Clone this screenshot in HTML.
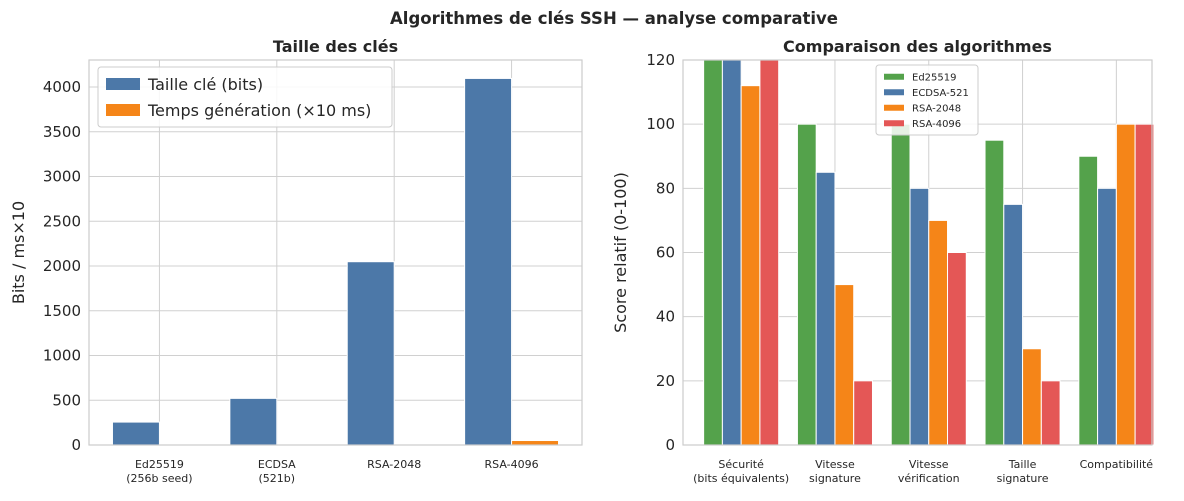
<!DOCTYPE html>
<html><head><meta charset="utf-8"><style>
body{margin:0;background:#fff;font-family:"Liberation Sans","DejaVu Sans",sans-serif}
svg text{font-family:"DejaVu Sans","Liberation Sans",sans-serif;fill:#262626}
</style></head><body>
<svg id="c" width="1184" height="496" xmlns="http://www.w3.org/2000/svg">
<text x="614" y="24" text-anchor="middle" font-size="16.5" font-weight="bold">Algorithmes de clés SSH — analyse comparative</text>
</svg>
<script>
const leftCats=["Ed25519\n(256b seed)","ECDSA\n(521b)","RSA-2048","RSA-4096"];
const keySize=[256,521,2048,4096];
const genTime=[0.5,1,2,50];
const leftTicks=[0,500,1000,1500,2000,2500,3000,3500,4000];
const rightCats=["Sécurité\n(bits équivalents)","Vitesse\nsignature","Vitesse\nvérification","Taille\nsignature","Compatibilité"];
const sEd=[128,100,100,95,90];
const sEcdsa=[128,85,80,75,80];
const sRsa2048=[112,50,70,30,100];
const sRsa4096=[128,20,60,20,100];
const rightTicks=[0,20,40,60,80,100,120];

const svg=document.getElementById('c');
const NS="http://www.w3.org/2000/svg";
function mk(t,a,p){const e=document.createElementNS(NS,t);for(const k in a)e.setAttribute(k,a[k]);(p||svg).appendChild(e);return e;}

function panel(o){
  const g=mk('g',{});
  
  
  const x=i=>o.x0+(i-o.xmin)/(o.xmax-o.xmin)*(o.x1-o.x0);
  const y=v=>o.y1-(Math.min(v,o.ymax))/o.ymax*(o.y1-o.y0);
  o.ticks.forEach(t=>{
    const l=mk('line',{x1:o.x0,x2:o.x1,y1:y(t),y2:y(t),stroke:'#d0d0d0','stroke-width':1},g);
    
    
    const tx=mk('text',{x:o.x0-8,y:y(t)+5,'text-anchor':'end','font-size':15},g);
    tx.textContent=t;
    
    
  });
  o.cats.forEach((c,i)=>{
    const l=mk('line',{x1:x(i),x2:x(i),y1:o.y0,y2:o.y1,stroke:'#d0d0d0','stroke-width':1},g);
    
    
    c.split('\n').forEach((s,k)=>{
      const tx=mk('text',{x:x(i),y:o.y1+23+k*14,'text-anchor':'middle','font-size':11},g);
      tx.textContent=s;
      
      
    });
  });
  const n=o.series.length;
  o.series.forEach((s,j)=>{
    s.vals.forEach((v,i)=>{
      const xl=x(i-o.w*n/2+j*o.w), xr=x(i-o.w*n/2+(j+1)*o.w);
      const r=mk('rect',{x:xl,y:y(v),width:xr-xl,height:o.y1-y(v),fill:s.color,stroke:'#fff','stroke-width':1},g);
      
      
    });
  });
  mk('rect',{x:o.x0,y:o.y0,width:o.x1-o.x0,height:o.y1-o.y0,fill:'none',stroke:'#cccccc','stroke-width':1.2},g);
  const t=mk('text',{x:(o.x0+o.x1)/2,y:o.y0-8,'text-anchor':'middle','font-size':16,'font-weight':'bold'},g);
  t.textContent=o.title;
  
  
  const yt=mk('text',{x:0,y:0,'text-anchor':'middle','font-size':16,transform:`translate(${o.ylx},${(o.y0+o.y1)/2}) rotate(-90)`},g);
  yt.textContent=o.ylabel;
  
  
  const L=o.leg;
  const lg=mk('g',{},g);
  
  
  mk('rect',{x:L.x,y:L.y,width:L.w,height:L.rh*n+8,fill:'#fff','fill-opacity':0.85,stroke:'#ccc',rx:3},lg);
  o.series.forEach((s,j)=>{
    const cy=L.y+4+L.rh*j+L.rh/2;
    mk('rect',{x:L.x+8,y:cy-L.sh/2,width:L.sw,height:L.sh,fill:s.color},lg);
    const tx=mk('text',{x:L.x+16+L.sw,y:cy+L.fs*0.36,'font-size':L.fs},lg);
    tx.textContent=s.label;
    
    
  });
}
panel({name:'key-size-panel',x0:89,x1:582,y0:60,y1:445,xmin:-0.6,xmax:3.6,ymax:4302,w:0.4,
  cats:leftCats,ticks:leftTicks,title:'Taille des clés',ylabel:'Bits / ms×10',ylx:24,
  series:[{key:'size',label:'Taille clé (bits)',color:'#4c78a8',vals:keySize},
          {key:'gen',label:'Temps génération (×10 ms)',color:'#f58518',vals:genTime}],
  leg:{x:98,y:67,w:294,rh:26,sw:34,sh:12,fs:16}});
panel({name:'comparison-panel',x0:683,x1:1152,y0:60,y1:445,xmin:-0.62,xmax:4.38,ymax:120,w:0.2,
  cats:rightCats,ticks:rightTicks,title:'Comparaison des algorithmes',ylabel:'Score relatif (0-100)',ylx:626,
  series:[{key:'ed25519',label:'Ed25519',color:'#54a24b',vals:sEd},
          {key:'ecdsa',label:'ECDSA-521',color:'#4c78a8',vals:sEcdsa},
          {key:'rsa2048',label:'RSA-2048',color:'#f58518',vals:sRsa2048},
          {key:'rsa4096',label:'RSA-4096',color:'#e45756',vals:sRsa4096}],
  leg:{x:876,y:65,w:102,rh:15.5,sw:20,sh:6,fs:10}});
</script>
</body></html>
